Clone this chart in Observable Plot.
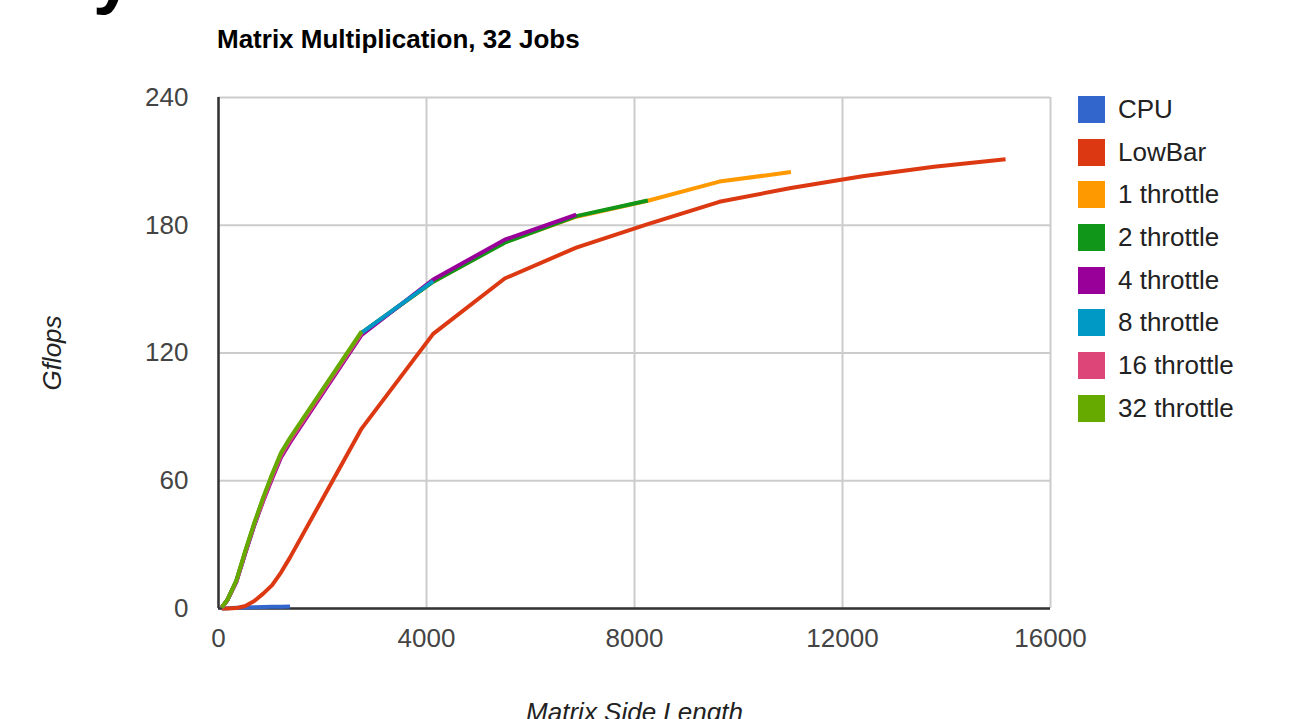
<!DOCTYPE html>
<html>
<head>
<meta charset="utf-8">
<script src="https://cdn.jsdelivr.net/npm/d3@7"></script>
<script src="https://cdn.jsdelivr.net/npm/@observablehq/plot@0.6"></script>
<style>
  html, body { margin: 0; padding: 0; background: #fff; overflow: hidden; }
  body { width: 1311px; height: 719px; position: relative; font-family: "Liberation Sans", Arial, sans-serif; }
  #chart { position: absolute; left: 0; top: 0; z-index: 0; }
  #cut { position: absolute; left: 93px; top: -61px; font-size: 72px; line-height: 1; font-weight: bold; color: #000; z-index: 2; }
  #title { position: absolute; left: 217px; top: 26px; font-size: 26px; line-height: 1; font-weight: bold; color: #000; white-space: nowrap; z-index: 2; }
  #legend { position: absolute; left: 1078px; top: 88px; z-index: 2; }
  .row { display: flex; align-items: center; height: 42.7px; }
  .sw { width: 27px; height: 27px; margin-right: 13px; box-sizing: border-box; }
  .lab { font-size: 26px; color: #222; white-space: nowrap; }
</style>
</head>
<body>
<div id="chart"></div>
<div id="cut">y</div>
<div id="title"></div>
<div id="legend"></div>
<script>
// ---- data ----
const titleText = "Matrix Multiplication, 32 Jobs";
const xLabel = "Matrix Side Length";
const yLabel = "Gflops";
const xTicks = [0, 4000, 8000, 12000, 16000];
const yTicks = [0, 60, 120, 180, 240];

const sizes = [64, 172, 344, 516, 688, 860, 1032, 1204, 1376, 2752, 4128, 5504, 6880, 8256, 9632, 11008, 12384, 13760, 15136];

const seriesNames = ["CPU", "LowBar", "1 throttle", "2 throttle", "4 throttle", "8 throttle", "16 throttle", "32 throttle"];
const seriesColors = ["#3366cc", "#dc3912", "#ff9900", "#109618", "#990099", "#0099c6", "#dd4477", "#66aa00"];

const cpu        = [0.05, 0.1, 0.3, 0.5, 0.6, 0.7, 0.8, 0.8, 0.9];
const lowBar     = [0, 0, 0.2, 1.2, 3.5, 7, 11, 17, 24, 84.5, 129, 155, 169.5, 180.5, 191, 197.5, 203, 207.5, 211];
const throttle1  = [0.5, 4, 13, 26.5, 39.5, 51.5, 62.5, 72.5, 79.5, 129.5, 153.5, 172, 184, 191.5, 200.5, 205];
const throttle2  = [0.5, 4, 13, 26.5, 39.5, 51.5, 62.5, 72.5, 79.5, 129.5, 153.5, 171.8, 184.3, 191.6];
const throttle4  = [0.5, 4, 12.5, 26, 39, 50.5, 61, 71, 78, 128.5, 154.5, 173.2, 185];
const throttle8  = [0.5, 4, 13, 26.5, 39.5, 51.5, 62.5, 72.5, 79.5, 129.5, 153.8];
const throttle16 = [0.5, 4, 12.8, 26.5, 39.5, 51, 62, 72, 79, 129.3];
const throttle32 = [0.5, 4.2, 13.2, 27.2, 40.2, 52.2, 63.2, 73.2, 80.2, 130.2];

const seriesValues = [cpu, lowBar, throttle1, throttle2, throttle4, throttle8, throttle16, throttle32];

// ---- build table ----
const data = seriesNames.flatMap((name, i) =>
  seriesValues[i].map((v, j) => ({series: name, size: sizes[j], gflops: v}))
);

document.getElementById("title").textContent = titleText;

const font = "Liberation Sans, Arial, sans-serif";

const chart = Plot.plot({
  width: 1311,
  height: 719,
  marginLeft: 218,
  marginRight: 261,
  marginTop: 97,
  marginBottom: 111,
  style: {fontFamily: font, fontSize: "26px", background: "#fff", overflow: "visible"},
  x: {domain: [0, 16000], ticks: xTicks, label: null},
  y: {domain: [0, 240], ticks: yTicks, label: null},
  color: {domain: seriesNames, range: seriesColors},
  marks: [
    Plot.gridX(xTicks, {stroke: "#cccccc", strokeOpacity: 1, strokeWidth: 2}),
    Plot.gridY(yTicks, {stroke: "#cccccc", strokeOpacity: 1, strokeWidth: 2}),
    Plot.axisX(xTicks, {tickSize: 0, tickPadding: 20, fill: "#444", fontSize: 26, tickFormat: d => String(d)}),
    Plot.axisY(yTicks, {tickSize: 0, tickPadding: 30, fill: "#444", fontSize: 26, tickFormat: d => String(d)}),
    Plot.ruleX([0], {stroke: "#333", strokeWidth: 2.5}),
    Plot.ruleY([0], {stroke: "#333", strokeWidth: 2.5}),
    Plot.line(data, {x: "size", y: "gflops", z: "series", stroke: "series", strokeWidth: 4, strokeLinejoin: "round", strokeLinecap: "butt"}),
    Plot.text([yLabel], {frameAnchor: "left", textAnchor: "middle", dx: -166, rotate: -90, fontStyle: "italic", fontSize: 26, fill: "#222"}),
    Plot.text([xLabel], {frameAnchor: "bottom", textAnchor: "middle", dy: 112, fontStyle: "italic", fontSize: 26, fill: "#222"})
  ]
});
document.getElementById("chart").appendChild(chart);

// ---- legend ----
const legend = document.getElementById("legend");
seriesNames.forEach((name, i) => {
  const row = document.createElement("div");
  row.className = "row";
  const sw = document.createElement("div");
  sw.className = "sw";
  sw.style.background = seriesColors[i];
  const lab = document.createElement("span");
  lab.className = "lab";
  lab.textContent = name;
  row.appendChild(sw);
  row.appendChild(lab);
  legend.appendChild(row);
});
</script>
</body>
</html>
